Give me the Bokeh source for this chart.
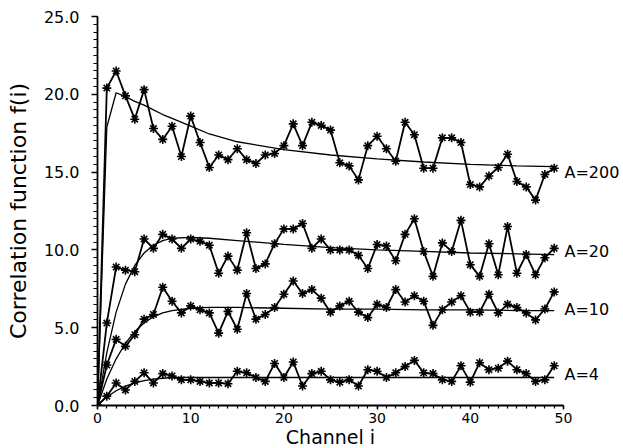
from bokeh.plotting import figure
from bokeh.models import Range1d, SingleIntervalTicker, PrintfTickFormatter, LinearAxis, FixedTicker
from bokeh.embed import file_html
from bokeh.resources import INLINE

channels = list(range(50))
a200 = [0.0, 20.4, 21.5, 19.9, 18.4, 20.3, 17.8, 17.1, 17.95, 16.0, 18.6, 16.9, 15.3, 16.1, 15.8, 16.5, 15.8, 15.55, 16.1, 16.2,
        16.7, 18.1, 16.7, 18.2, 18.0, 17.7, 15.6, 15.4, 14.5, 16.7, 17.3, 16.5, 15.7, 18.2, 17.4, 15.25, 15.25, 17.2, 17.2, 16.9,
        14.2, 14.05, 14.75, 15.3, 16.15, 14.4, 14.05, 13.2, 14.85, 15.25]
a20 = [0.0, 5.3, 8.9, 8.7, 8.6, 10.7, 10.1, 11.0, 10.7, 10.1, 10.7, 10.55, 10.3, 8.5, 9.6, 8.7, 11.1, 8.8, 9.1, 10.4,
       11.35, 11.35, 11.7, 10.1, 10.7, 10.0, 10.0, 10.0, 9.65, 8.8, 10.35, 10.25, 9.3, 11.0, 12.0, 9.9, 8.3, 10.45, 9.9, 11.9,
       9.05, 8.3, 10.4, 8.4, 11.5, 8.5, 9.7, 8.4, 9.5, 10.1]
a10 = [0.0, 2.6, 4.25, 3.8, 4.55, 5.55, 5.85, 7.6, 6.7, 5.95, 6.4, 6.15, 5.95, 4.65, 6.05, 4.9, 7.2, 5.55, 5.85, 6.3,
       7.15, 8.0, 7.2, 7.45, 6.9, 6.0, 6.4, 6.7, 6.0, 5.65, 6.5, 6.3, 7.45, 6.65, 7.05, 6.7, 5.15, 6.15, 6.65, 7.05,
       6.0, 6.0, 7.15, 5.95, 6.5, 6.3, 5.95, 5.5, 6.2, 7.3]
a4 = [0.0, 0.6, 1.45, 1.0, 1.55, 2.1, 1.45, 2.05, 1.9, 1.65, 1.65, 1.55, 1.45, 1.45, 1.4, 2.2, 2.1, 1.8, 1.55, 2.7,
      1.8, 2.8, 1.25, 2.05, 2.2, 1.65, 1.5, 1.65, 1.25, 2.3, 2.2, 1.8, 2.1, 2.5, 2.9, 2.1, 2.05, 1.65, 1.55, 2.55,
      1.5, 2.75, 2.3, 2.4, 2.85, 2.3, 2.05, 1.55, 1.65, 2.55]

fit_ch = [0, 1, 2, 3, 4, 5, 6, 7, 8, 10, 12, 15, 20, 25, 30, 35, 40, 45, 49]
fit200 = [0.0, 17.9, 20.1, 19.85, 19.55, 19.3, 19.0, 18.7, 18.45, 17.95, 17.45, 16.95, 16.45, 16.1, 15.85, 15.65, 15.5, 15.4, 15.35]
fit20 = [0.0, 3.4, 6.0, 7.8, 9.0, 9.8, 10.3, 10.6, 10.75, 10.8, 10.75, 10.6, 10.35, 10.15, 10.0, 9.9, 9.8, 9.75, 9.7]
fit10 = [0.0, 1.7, 3.0, 4.0, 4.75, 5.3, 5.7, 5.95, 6.1, 6.25, 6.3, 6.3, 6.25, 6.2, 6.2, 6.15, 6.15, 6.1, 6.1]
fit4 = [0.0, 0.55, 0.95, 1.25, 1.45, 1.6, 1.7, 1.75, 1.8, 1.8, 1.8, 1.8, 1.8, 1.8, 1.8, 1.8, 1.8, 1.8, 1.8]

series_names = ["A=200", "A=20", "A=10", "A=4"]
label_y = [15.0, 9.9, 6.2, 2.0]

FONT = "DejaVu Sans"

p = figure(width=621, height=445, output_backend="svg", toolbar_location=None,
           x_range=Range1d(0, 50), y_range=Range1d(0, 25),
           min_border_left=97, min_border_right=58, min_border_top=16, min_border_bottom=40)
p.frame_width = 466
p.frame_height = 389
p.outline_line_color = None
p.xgrid.visible = False
p.ygrid.visible = False
p.background_fill_color = "white"
p.border_fill_color = "white"

for data, fit in zip([a200, a20, a10, a4], [fit200, fit20, fit10, fit4]):
    p.line(fit_ch, fit, line_color="black", line_width=1.3)
    p.line(channels, data, line_color="black", line_width=1.8)
    p.scatter(channels, data, marker="asterisk", size=9, line_color="black", line_width=1.6)

xa = p.xaxis[0]
ya = p.yaxis[0]
xa.ticker = SingleIntervalTicker(interval=10, num_minor_ticks=10)
ya.ticker = SingleIntervalTicker(interval=5, num_minor_ticks=10)
ya.formatter = PrintfTickFormatter(format="%.1f")

for ax in [xa, ya]:
    ax.axis_line_width = 1.8
    ax.axis_line_color = "black"
    ax.major_tick_line_color = "black"
    ax.minor_tick_line_color = "black"
    ax.major_tick_line_width = 1.5
    ax.minor_tick_line_width = 1.2
    ax.major_tick_in = 0
    ax.major_tick_out = 6
    ax.minor_tick_in = 0
    ax.minor_tick_out = 4
    ax.major_label_text_font = FONT
    ax.major_label_text_color = "black"
    ax.axis_label_text_font = FONT
    ax.axis_label_text_font_style = "normal"
    ax.axis_label_text_color = "black"

xa.major_tick_out = 4
xa.minor_tick_out = 3
xa.major_label_text_font_size = "14px"
ya.major_label_text_font_size = "16px"
xa.axis_label = "Channel i"
ya.axis_label = "Correlation function f(i)"
xa.axis_label_text_font_size = "19px"
ya.axis_label_text_font_size = "22px"
xa.major_label_standoff = 3
xa.axis_label_standoff = 0
ya.major_label_standoff = 12
ya.axis_label_standoff = 10

# series names placed at the right edge through a tick-less right axis
name_axis = LinearAxis(ticker=FixedTicker(ticks=label_y),
                       major_label_overrides={v: n for v, n in zip(label_y, series_names)})
name_axis.axis_line_color = None
name_axis.major_tick_line_color = None
name_axis.minor_tick_line_color = None
name_axis.major_tick_out = 0
name_axis.major_tick_in = 0
name_axis.major_label_standoff = 1
name_axis.major_label_text_font = FONT
name_axis.major_label_text_font_size = "16px"
name_axis.major_label_text_color = "black"
p.add_layout(name_axis, "right")

open("out.html", "w").write(file_html(p, INLINE))
